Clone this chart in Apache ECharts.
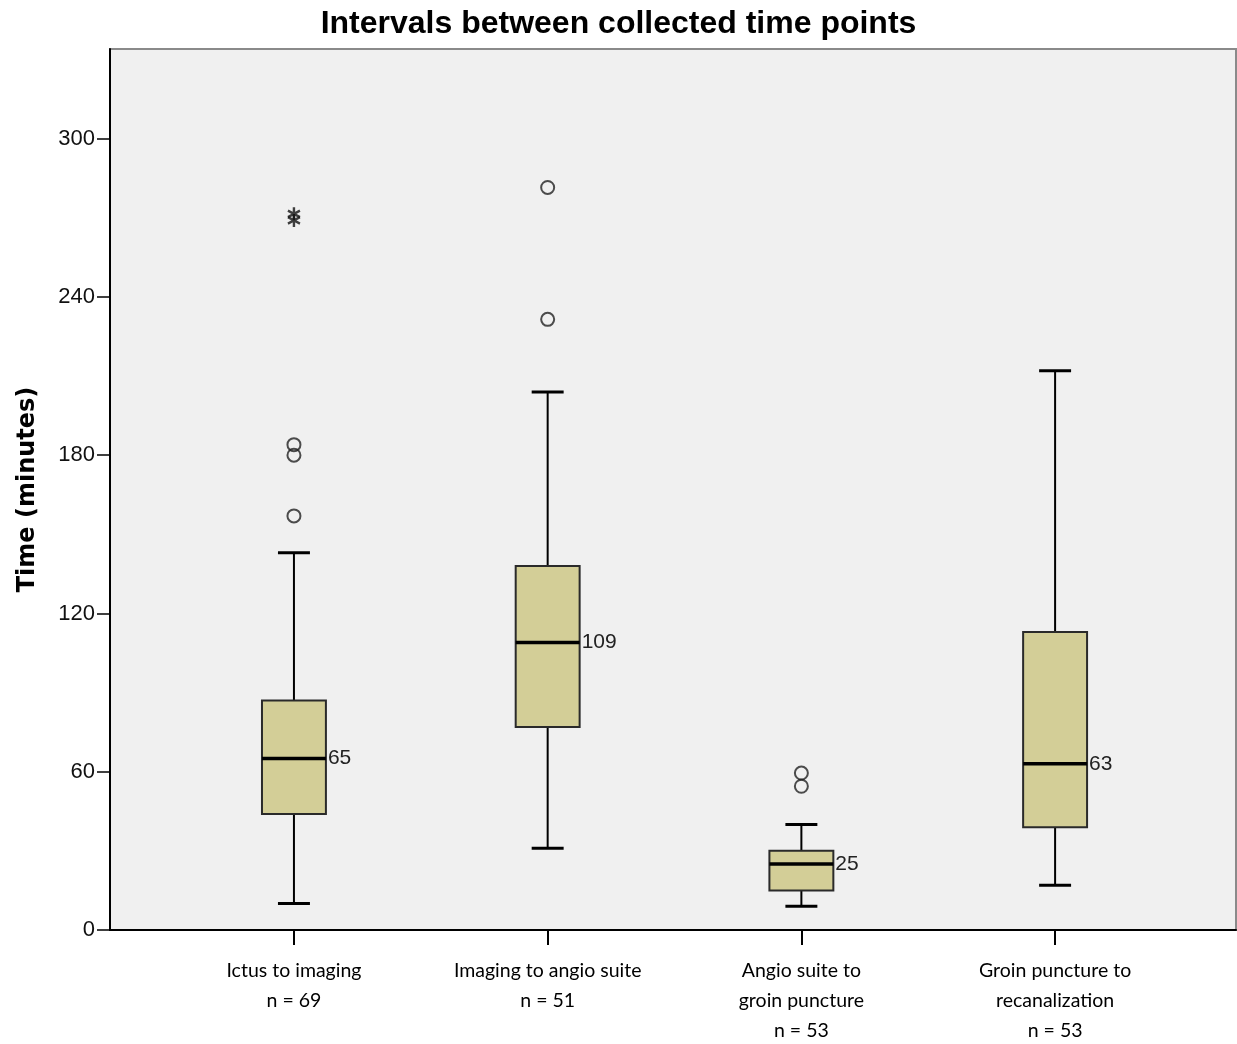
<!DOCTYPE html>
<html>
<head>
<meta charset="utf-8">
<script src="https://cdn.jsdelivr.net/npm/echarts@6/dist/echarts.min.js"></script>
<style>html,body{margin:0;padding:0;background:#fff}#c{width:1237px;height:1044px}</style>
</head>
<body>
<div id="c"></div>
<script>
// ---- data ----
const categories = [
  'Ictus to imaging\nn = 69',
  'Imaging to angio suite\nn = 51',
  'Angio suite to\ngroin puncture\nn = 53',
  'Groin puncture to\nrecanalization\nn = 53'
];
// [low whisker, Q1, median, Q3, high whisker]
const lowWhisker = [10, 31, 9, 17];
const q1 = [44, 77, 15, 39];
const median = [65, 109, 25, 63];
const q3 = [87, 138, 30, 113];
const highWhisker = [143, 204, 40, 212];
// outliers [category index, value]
const outliers = [[0, 157], [0, 180], [0, 184], [1, 231.5], [1, 281.5], [2, 54.5], [2, 59.5]];
const extremes = [[0, 269], [0, 271.5]];
const yTicks = [0, 60, 120, 180, 240, 300];

const boxData = categories.map((c, i) => [i + 1, lowWhisker[i], q1[i], median[i], q3[i], highWhisker[i]]);
const outlierData = outliers.map(d => [d[0] + 1, d[1]]);
const extremeData = extremes.map(d => [d[0] + 1, d[1]]);

const chart = echarts.init(document.getElementById('c'));
chart.setOption({
  backgroundColor: '#ffffff',
  animation: false,
  title: {
    text: 'Intervals between collected time points',
    left: 'center',
    top: 3,
    textStyle: {fontFamily: 'Liberation Sans', fontWeight: 'bold', fontSize: 32, color: '#000'}
  },
  grid: {
    left: 110, right: 1, top: 49, bottom: 114,
    outerBoundsMode: 'none', containLabel: false,
    show: true, backgroundColor: '#f0f0f0', borderColor: '#8a8a8a', borderWidth: 2
  },
  xAxis: {
    type: 'value', min: 0.275, max: 4.713,
    axisLine: {show: true, onZero: false, lineStyle: {color: '#000', width: 2}},
    axisTick: {show: true, length: 15, customValues: [1, 2, 3, 4], lineStyle: {color: '#000', width: 2}},
    axisLabel: {
      customValues: [1, 2, 3, 4],
      formatter: v => categories[Math.round(v) - 1],
      margin: 26, lineHeight: 30, fontFamily: 'Lato', fontSize: 19.5, color: '#000'
    },
    splitLine: {show: false}
  },
  yAxis: {
    type: 'value', min: 0, max: 334, interval: 60,
    name: 'Time (minutes)', nameLocation: 'middle', nameGap: 70,
    nameTextStyle: {fontFamily: 'DejaVu Sans', fontWeight: 'bold', fontSize: 24, color: '#000'},
    axisLine: {show: true, lineStyle: {color: '#000', width: 2}},
    axisTick: {show: true, length: 13, customValues: yTicks, lineStyle: {color: '#000', width: 1.5}},
    axisLabel: {customValues: yTicks, margin: 15, fontFamily: 'Liberation Sans', fontSize: 22, color: '#111'},
    splitLine: {show: false}
  },
  series: [
    {
      type: 'custom',
      data: boxData,
      encode: {x: 0, y: [1, 2, 3, 4, 5]},
      z: 3,
      renderItem: function (params, api) {
        const x = api.value(0);
        const half = api.size([1, 0])[0] * 0.126;
        const pLow = api.coord([x, api.value(1)]);
        const pQ1 = api.coord([x, api.value(2)]);
        const pMed = api.coord([x, api.value(3)]);
        const pQ3 = api.coord([x, api.value(4)]);
        const pHigh = api.coord([x, api.value(5)]);
        const cx = pMed[0];
        const blk = {stroke: '#000', lineWidth: 2};
        return {
          type: 'group',
          children: [
            {type: 'line', shape: {x1: cx, y1: pQ3[1], x2: cx, y2: pHigh[1]}, style: blk},
            {type: 'line', shape: {x1: cx, y1: pQ1[1], x2: cx, y2: pLow[1]}, style: blk},
            {type: 'line', shape: {x1: cx - half / 2, y1: pHigh[1], x2: cx + half / 2, y2: pHigh[1]}, style: {stroke: '#000', lineWidth: 3}},
            {type: 'line', shape: {x1: cx - half / 2, y1: pLow[1], x2: cx + half / 2, y2: pLow[1]}, style: {stroke: '#000', lineWidth: 3}},
            {type: 'rect', shape: {x: cx - half, y: pQ3[1], width: 2 * half, height: pQ1[1] - pQ3[1]},
              style: {fill: '#d3ce97', stroke: '#2a2a2a', lineWidth: 2}},
            {type: 'line', shape: {x1: cx - half, y1: pMed[1], x2: cx + half, y2: pMed[1]}, style: {stroke: '#000', lineWidth: 3.5}},
            {type: 'text', x: cx + half + 2, y: pMed[1],
              style: {text: String(api.value(3)), textAlign: 'left', textVerticalAlign: 'middle',
                fontFamily: 'Liberation Sans', fontSize: 21, fill: '#222'}}
          ]
        };
      }
    },
    {
      type: 'scatter',
      data: outlierData,
      symbol: 'circle', symbolSize: 13,
      itemStyle: {color: 'rgba(0,0,0,0)', borderColor: '#222', borderWidth: 2},
      z: 4
    },
    {
      type: 'scatter',
      data: extremeData,
      symbol: 'path://M10,0L10,20M1.3,5L18.7,15M1.3,15L18.7,5',
      symbolSize: [12, 13],
      itemStyle: {color: 'rgba(0,0,0,0)', borderColor: '#111', borderWidth: 2.5},
      z: 4
    }
  ]
});
</script>
</body>
</html>
